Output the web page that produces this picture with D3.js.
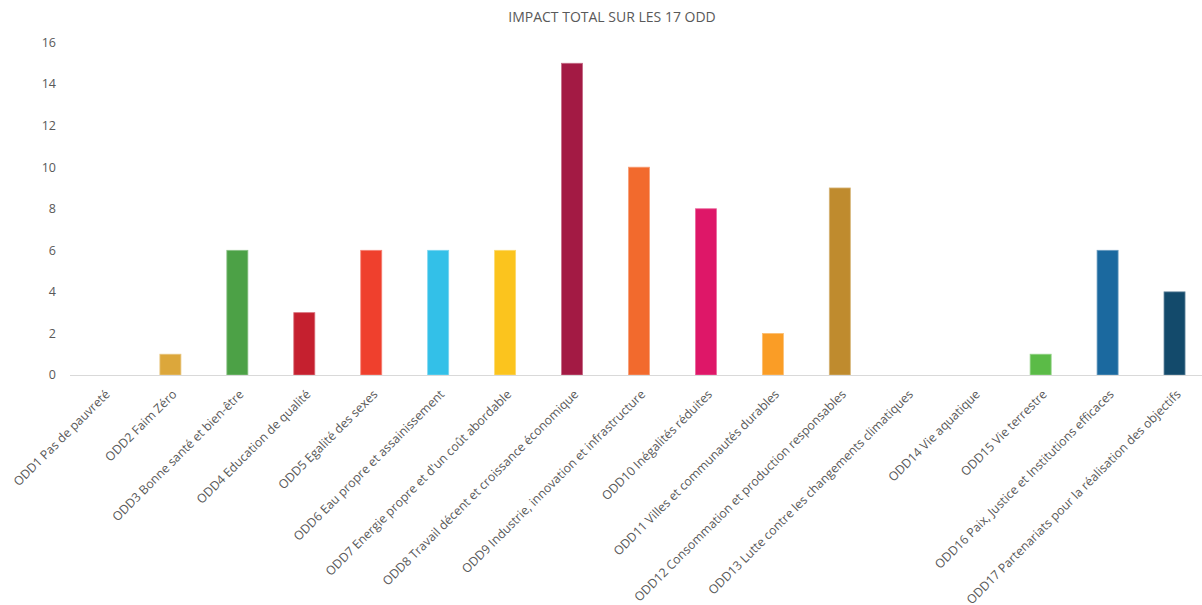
<!DOCTYPE html>
<html>
<head>
<meta charset="utf-8">
<script src="https://cdn.jsdelivr.net/npm/d3@7"></script>
<style>
  body { margin: 0; background: #fff; }
  text { font-family: "Open Sans", sans-serif; fill: #595959; }
</style>
</head>
<body>
<svg id="chart" width="1202" height="605"></svg>
<script>
// data
const categories = [
  "ODD1 Pas de pauvreté",
  "ODD2 Faim Zéro",
  "ODD3 Bonne santé et bien-être",
  "ODD4 Education de qualité",
  "ODD5 Egalité des sexes",
  "ODD6 Eau propre et assainissement",
  "ODD7 Energie propre et d'un coût abordable",
  "ODD8 Travail décent et croissance économique",
  "ODD9 Industrie, innovation et infrastructure",
  "ODD10 Inégalités réduites",
  "ODD11 Villes et communautés durables",
  "ODD12 Consommation et production responsables",
  "ODD13 Lutte contre les changements climatiques",
  "ODD14 Vie aquatique",
  "ODD15 Vie terrestre",
  "ODD16 Paix, Justice et Institutions efficaces",
  "ODD17 Partenariats pour la réalisation des objectifs"
];
const values = [0, 1, 6, 3, 6, 6, 6, 15, 10, 8, 2, 9, 0, 0, 1, 6, 4];
const colors = [
  "#e5243b", "#dca73b", "#4ca146", "#c5202f", "#ef402d", "#33c0e8",
  "#fbc41e", "#a31a44", "#f26a2d", "#de1768", "#fa9d26", "#bf8b2e",
  "#3f7e44", "#0a97d9", "#5bbb47", "#1b699f", "#134a6b"
];
const yTicks = [0, 2, 4, 6, 8, 10, 12, 14, 16];
const title = "IMPACT TOTAL SUR LES 17 ODD";

const svg = d3.select("#chart");
const margin = {top: 42.5, left: 70, bottom: 375};

const x = d3.scaleBand()
  .domain(categories)
  .range([margin.left, 1208])
  .paddingInner(0.686)
  .paddingOuter(0.343);

const y = d3.scaleLinear()
  .domain([0, 16])
  .range([margin.bottom, margin.top]);

// title
svg.append("text")
  .attr("x", 612)
  .attr("y", 22)
  .attr("text-anchor", "middle")
  .attr("font-size", 14)
  .text(title);

// y labels, no axis line
svg.append("g")
  .selectAll("text")
  .data(yTicks)
  .enter()
  .append("text")
    .attr("x", 56)
    .attr("y", d => y(d))
    .attr("dy", "0.35em")
    .attr("text-anchor", "end")
    .attr("font-size", 12.5)
    .text(d => d);

// bars
svg.append("g")
  .selectAll("rect")
  .data(values)
  .enter()
  .append("rect")
    .attr("x", (d, i) => x(categories[i]))
    .attr("y", d => y(d))
    .attr("width", x.bandwidth())
    .attr("height", d => y(0) - y(d))
    .attr("fill", (d, i) => colors[i])
    .attr("stroke", (d, i) => d3.interpolate(colors[i], "#fff")(0.35))
    .attr("stroke-width", d => d > 0 ? 0.8 : 0);

// x baseline
svg.append("line")
  .attr("x1", margin.left)
  .attr("x2", 1202)
  .attr("y1", y(0) + 0.5)
  .attr("y2", y(0) + 0.5)
  .attr("stroke", "#d9d9d9")
  .attr("stroke-width", 1);

// rotated category labels
svg.append("g")
  .selectAll("text")
  .data(categories)
  .enter()
  .append("text")
    .attr("transform", d => "translate(" + (x(d) + x.bandwidth() / 2 + 4) + "," + 392 + ") rotate(-45)")
    .attr("text-anchor", "end")
    .attr("dy", "0.35em")
    .attr("font-size", 12.3)
    .text(d => d);
</script>
</body>
</html>
